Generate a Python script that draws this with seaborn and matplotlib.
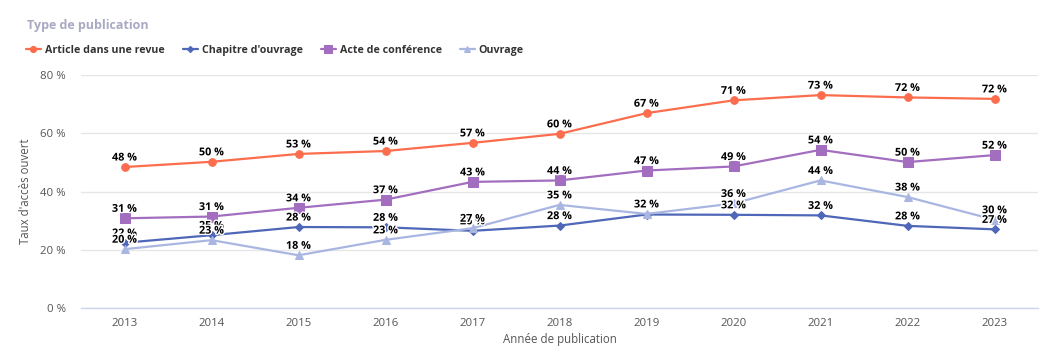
import matplotlib
matplotlib.use("Agg")
import matplotlib.pyplot as plt
import matplotlib.patheffects as pe
import seaborn as sns
import pandas as pd

years = [2013, 2014, 2015, 2016, 2017, 2018, 2019, 2020, 2021, 2022, 2023]
article = [48.4, 50.2, 52.9, 53.9, 56.7, 59.8, 66.9, 71.3, 73.1, 72.3, 71.8]
chapitre = [22.4, 25.0, 27.8, 27.7, 26.5, 28.3, 32.1, 32.0, 31.8, 28.2, 27.0]
acte = [30.8, 31.4, 34.4, 37.2, 43.3, 43.8, 47.2, 48.6, 54.3, 50.1, 52.5]
ouvrage = [20.2, 23.3, 18.1, 23.4, 27.4, 35.4, 32.3, 35.9, 43.8, 38.1, 30.3]
series_names = ["Article dans une revue", "Chapitre d'ouvrage", "Acte de conférence", "Ouvrage"]
y_ticks = [0, 20, 40, 60, 80]

colors = ["#fb6d4c", "#4f67b8", "#a36dc0", "#a9b6e1"]
markers = ["o", "D", "s", "^"]
msizes = [5.5, 4, 6.5, 5.5]

rows = []
for name, vals in zip(series_names, [article, chapitre, acte, ouvrage]):
    for i, (y, v) in enumerate(zip(years, vals)):
        rows.append({"idx": i, "year": y, "value": v, "serie": name})
df = pd.DataFrame(rows)

sns.set_style("white")
plt.rcParams["font.family"] = ["Open Sans", "DejaVu Sans"]

fig = plt.figure(figsize=(10.6, 3.51), dpi=100)
ax = fig.add_axes([81 / 1060, 1 - 308 / 351, (1038 - 81) / 1060, (308 - 75) / 351])

for name, c, m, ms in zip(series_names, colors, markers, msizes):
    sub = df[df["serie"] == name]
    sns.lineplot(data=sub, x="idx", y="value", ax=ax, color=c, marker=m,
                 markersize=ms, markeredgecolor=c, linewidth=1.6, label=name,
                 zorder=3, legend=False)
    for _, r in sub.iterrows():
        ax.annotate(f"{round(r['value']):d} %", (r["idx"], r["value"]),
                    xytext=(0, 2.5), textcoords="offset points", ha="center",
                    va="bottom", fontsize=7.8, fontweight="bold", color="black",
                    zorder=5,
                    path_effects=[pe.withStroke(linewidth=2, foreground="white")])

ax.set_xlim(-0.5, len(years) - 0.5)
ax.set_ylim(0, 80)
ax.set_xticks(range(len(years)))
ax.set_xticklabels([str(y) for y in years])
ax.set_yticks(y_ticks)
ax.set_yticklabels([f"{t} %" for t in y_ticks])
ax.tick_params(axis="both", length=0, labelsize=8.2, labelcolor="#555555")
ax.tick_params(axis="x", pad=7)
ax.tick_params(axis="y", pad=11)
ax.grid(axis="y", color="#e6e6e6", linewidth=1)
ax.set_axisbelow(True)
for s in ["top", "right", "left"]:
    ax.spines[s].set_visible(False)
ax.spines["bottom"].set_color("#ccd6eb")
ax.spines["bottom"].set_linewidth(1)
ax.set_xlabel("Année de publication", fontsize=8.3, color="#555555", labelpad=3)
ax.set_ylabel("Taux d'accès ouvert", fontsize=8.3, color="#555555", labelpad=6)

handles = ax.get_lines()[:4]
leg = fig.legend(handles=handles, labels=series_names, loc="center left",
                 bbox_to_anchor=(26 / 1060, 1 - 50.5 / 351), ncol=4,
                 frameon=False, fontsize=7.7, handlelength=1.4,
                 handletextpad=0.4, columnspacing=1.65, borderaxespad=0,
                 borderpad=0, markerscale=0.8)
for t in leg.get_texts():
    t.set_fontweight("bold")
    t.set_color("#333333")

fig.text(27 / 1060, 1 - 26 / 351, "Type de publication", fontsize=9,
         fontweight="bold", color="#a9a9c4", va="center", ha="left")

fig.savefig("out.png", dpi=100)
